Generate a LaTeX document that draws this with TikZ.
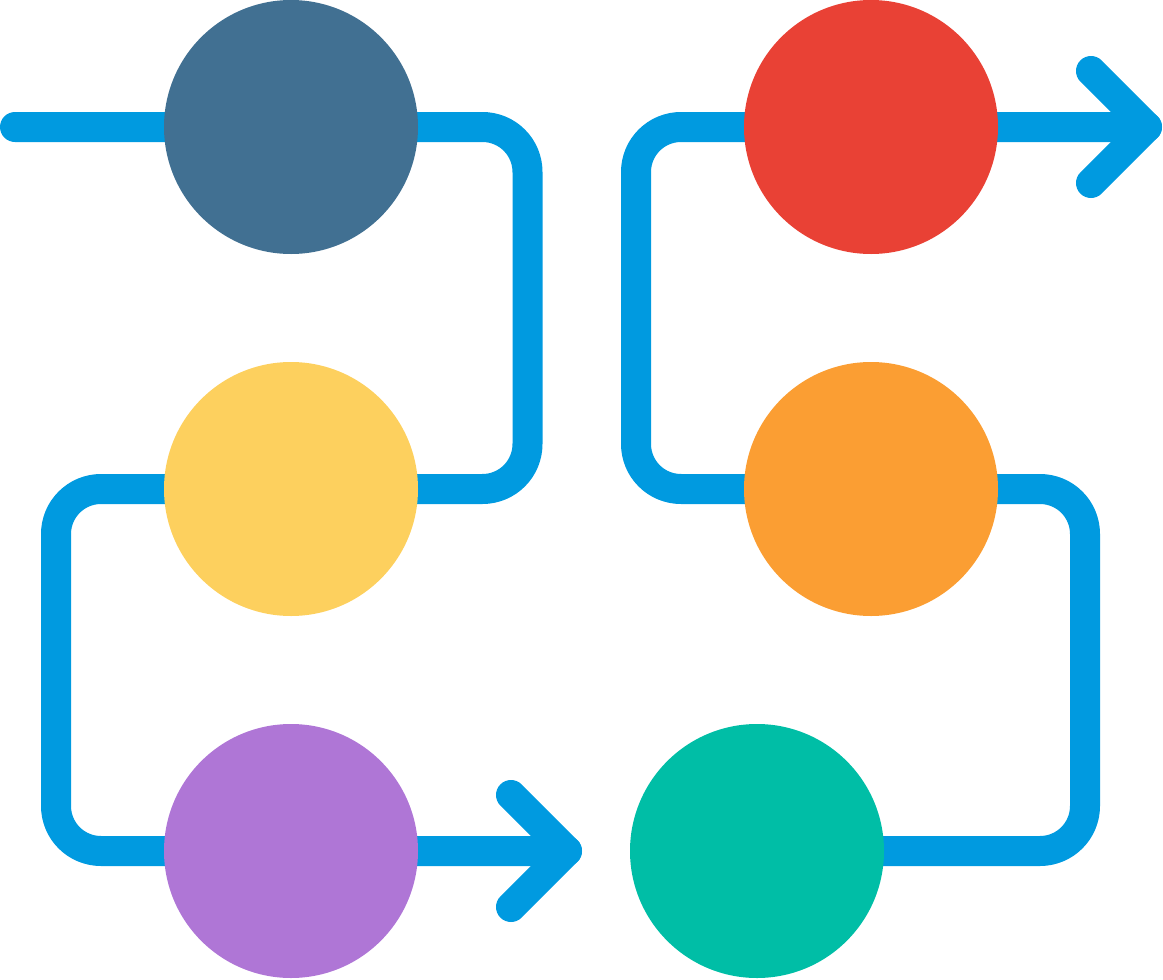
\documentclass[tikz,border=0pt]{standalone}
\usetikzlibrary{backgrounds}
\definecolor{flowblue}{RGB}{0,154,224}
\definecolor{cA}{RGB}{65,112,146}
\definecolor{cB}{RGB}{253,208,94}
\definecolor{cC}{RGB}{175,118,214}
\definecolor{cD}{RGB}{233,65,53}
\definecolor{cE}{RGB}{251,158,51}
\definecolor{cF}{RGB}{0,190,166}
\tikzset{
  dot/.style={circle, minimum size=254pt, inner sep=0pt, draw=none},
  flow/.style={draw=flowblue, line width=30pt, rounded corners=45pt, line cap=round, line join=round},
  chev/.style={draw=flowblue, line width=30pt, line cap=round, line join=round}
}
\begin{document}
\begin{tikzpicture}[x=1pt,y=-1pt]
\useasboundingbox (0,0) rectangle (1163,980);
% circles
\node[dot, fill=cA] (a) at (291,127) {};
\node[dot, fill=cB] (b) at (291,489) {};
\node[dot, fill=cC] (c) at (291,851) {};
\node[dot, fill=cD] (d) at (871,127) {};
\node[dot, fill=cE] (e) at (871,489) {};
\node[dot, fill=cF] (f) at (757,851) {};
% corner and end coordinates
\coordinate (s) at (15,127);
\coordinate (l1) at (527.5,127);
\coordinate (l2) at (527.5,489);
\coordinate (l3) at (56,489);
\coordinate (l4) at (56,851);
\coordinate (t1) at (567,851);
\coordinate (t1a) at (511,795);
\coordinate (t1b) at (511,907);
\coordinate (r1) at (636,127);
\coordinate (r2) at (636,489);
\coordinate (r3) at (1085,489);
\coordinate (r4) at (1085,851);
\coordinate (t2) at (1147,127);
\coordinate (t2a) at (1091,71);
\coordinate (t2b) at (1091,183);
\begin{scope}[on background layer]
\draw[flow] (s) -- (a.center) -- (l1) -- (l2) -- (b.center) -- (l3) -- (l4) -- (c.center) -- (t1);
\draw[chev] (t1a) -- (t1) -- (t1b);
\draw[flow] (f.center) -- (r4) -- (r3) -- (e.center) -- (r2) -- (r1) -- (d.center) -- (t2);
\draw[chev] (t2a) -- (t2) -- (t2b);
\end{scope}
\end{tikzpicture}
\end{document}
